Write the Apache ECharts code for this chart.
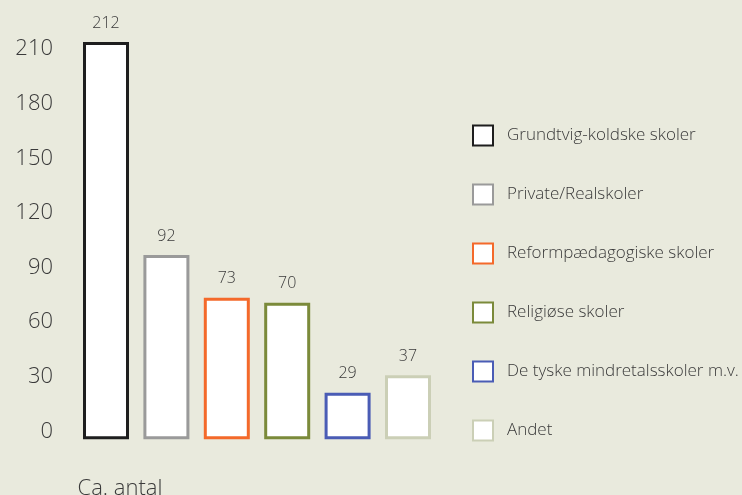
<!DOCTYPE html>
<html>
<head>
<meta charset="utf-8">
<script src="https://cdn.jsdelivr.net/npm/echarts@6/dist/echarts.min.js"></script>
<style>
html,body{margin:0;padding:0;background:#e9eadd;}
#chart{width:742px;height:495px;}
</style>
</head>
<body>
<div id="chart"></div>
<script>
// Data
var category = ['Ca. antal'];
var seriesNames = ['Grundtvig-koldske skoler', 'Private/Realskoler', 'Reformpædagogiske skoler', 'Religiøse skoler', 'De tyske mindretalsskoler m.v.', 'Andet'];
var printedCounts = [212, 92, 73, 70, 29, 37];            // numbers printed above the bars
var barHeights = [213.8, 96.9, 73.5, 70.7, 21.3, 30.9];    // bar heights as drawn against the axis
var seriesColors = ['#1e1e1e', '#9a9a9a', '#f4692a', '#7b8a3a', '#4a5cb5', '#cbcfb6'];
var yTicks = { min: 0, max: 230, interval: 30 };

var FONT = 'Open Sans';
var TXT = '#3a3a3a';

var chart = echarts.init(document.getElementById('chart'), null, { renderer: 'canvas' });

var series = seriesNames.map(function (name, i) {
  return {
    name: name,
    type: 'bar',
    data: [barHeights[i]],
    barWidth: 46,
    barGap: '31.3%',
    clip: false,
    itemStyle: { color: '#ffffff', borderColor: seriesColors[i], borderWidth: 3 },
    label: {
      show: true,
      position: 'top',
      distance: 11,
      formatter: function () { return String(printedCounts[i]); },
      color: TXT,
      fontFamily: FONT,
      fontWeight: 300,
      fontSize: 16
    },
    emphasis: { disabled: true }
  };
});

chart.setOption({
  backgroundColor: '#e9eadd',
  animation: false,
  grid: { left: 61, right: 289, top: 12.6, bottom: 63.5, containLabel: false, outerBoundsMode: 'none' },
  xAxis: {
    type: 'category',
    data: category,
    axisLine: { show: false },
    axisTick: { show: false },
    axisLabel: {
      margin: 46,
      padding: [0, 274, 0, 0],
      color: TXT,
      fontFamily: FONT,
      fontWeight: 300,
      fontSize: 22
    }
  },
  yAxis: {
    type: 'value',
    min: yTicks.min,
    max: yTicks.max,
    interval: yTicks.interval,
    startValue: -4.2,
    splitLine: { show: false },
    axisLine: { show: false },
    axisTick: { show: false },
    axisLabel: {
      showMaxLabel: false,
      margin: 8,
      color: TXT,
      fontFamily: FONT,
      fontWeight: 300,
      fontSize: 22
    }
  },
  legend: {
    orient: 'vertical',
    left: 467,
    top: 118,
    itemWidth: 20,
    itemHeight: 20,
    itemGap: 34,
    selectedMode: false,
    icon: 'rect',
    textStyle: {
      color: TXT,
      fontFamily: FONT,
      fontWeight: 300,
      fontSize: 17,
      lineHeight: 20,
      padding: [0, 0, 5, 9]
    },
    data: seriesNames
  },
  series: series
});
</script>
</body>
</html>
